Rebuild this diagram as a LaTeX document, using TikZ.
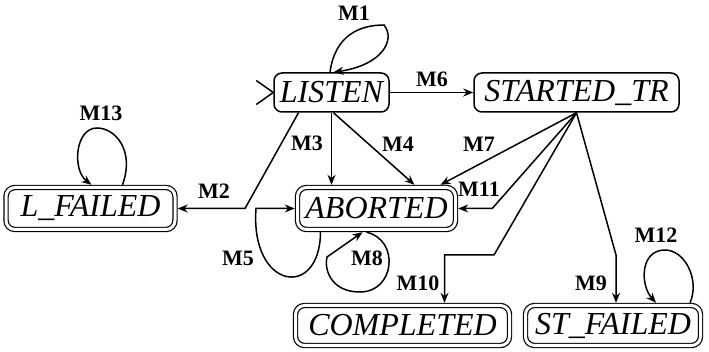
\documentclass[tikz,border=0pt]{standalone}
\usepackage{fontspec}
\setmainfont{Liberation Serif}
\usetikzlibrary{arrows.meta}

\begin{document}
\begin{tikzpicture}[x=1pt,y=-1pt,line width=1.5pt,>={Stealth[length=10pt,width=8pt]},
    state/.style={draw,rounded corners=8pt,inner sep=0,font=\fontsize{32}{36}\selectfont\itshape},
    final/.style={state,double,double distance=3pt,line width=1.2pt,outer sep=2.7pt,rounded corners=9pt},
    msg/.style={font=\fontsize{22}{24}\selectfont\bfseries,inner sep=0}]
        \useasboundingbox (0,0) rectangle (709,352);
        \node[state,minimum width=115pt,minimum height=39pt] (LISTEN) at (331.5,92.5) {LISTEN};
        \node[state,minimum width=205pt,minimum height=39pt] (STARTED) at (576.5,92.5) {STARTED\_TR};
        \node[final,minimum width=169pt,minimum height=42pt] (LFAILED) at (90.5,208.5) {L\_FAILED};
        \node[final,minimum width=158pt,minimum height=42pt] (ABORTED) at (376.5,208.5) {ABORTED};
        \node[final,minimum width=214pt,minimum height=40pt] (COMPLETED) at (402.5,325.5) {COMPLETED};
        \node[final,minimum width=175pt,minimum height=40pt] (STFAILED) at (613,325.5) {ST\_FAILED};
        \node[msg] (m1) at (354,13) {M1};
        \node[msg] (m2) at (214,191) {M2};
        \node[msg] (m3) at (307,143) {M3};
        \node[msg] (m4) at (398,144) {M4};
        \node[msg] (m5) at (238,258) {M5};
        \node[msg] (m6) at (432,79) {M6};
        \node[msg] (m7) at (479,144) {M7};
        \node[msg] (m8) at (367,258) {M8};
        \node[msg] (m9) at (591,283) {M9};
        \node[msg] (m10) at (418,283) {M10};
        \node[msg] (m11) at (479,189) {M11};
        \node[msg] (m12) at (656,235) {M12};
        \node[msg] (m13) at (101,113) {M13};
        \draw (LISTEN.west) -- ++(-17,-12) (LISTEN.west) -- ++(-17,12);
        \draw[->] ([xshift=-1.5pt]LISTEN.north) .. controls (335,35) and (360,25) .. (384,25) .. controls (396,40) and (382,65) .. ([xshift=2pt]LISTEN.north);
        \draw[->] ([xshift=-33pt]LISTEN.south) -- (245,208.5) -- (LFAILED.east);
        \draw[->] (LISTEN.south) -- (LISTEN.south |- ABORTED.north);
        \draw[->] ([xshift=2pt]LISTEN.south) -- ([xshift=38pt]ABORTED.north);
        \draw[->] ([xshift=-56pt]ABORTED.south) .. controls (320,300) and (250,290) .. (256,208.5) -- (ABORTED.west);
        \draw[->] (LISTEN.east) -- (STARTED.west);
        \draw[->] (STARTED.south) -- ([xshift=64pt]ABORTED.north);
        \draw[->] ([xshift=-10pt]ABORTED.south) .. controls (400,240) and (395,292) .. (360,292) .. controls (330,292) and (324,268) .. (327,257) -- ([xshift=-14pt]ABORTED.south);
        \draw[->] (STARTED.south) -- (616,255) -- ([xshift=3pt]STFAILED.north);
        \draw[->] (STARTED.south) -- (494,255) -| ([xshift=42pt]COMPLETED.north);
        \draw[->] (STARTED.south) -- ([xshift=34pt]ABORTED.east) -- (ABORTED.east);
        \draw[->] ([xshift=77pt]STFAILED.north) .. controls (700,280) and (685,250) .. (665,250) .. controls (640,250) and (640,285) .. ([xshift=43pt]STFAILED.north);
        \draw[->] ([xshift=32pt]LFAILED.north) .. controls (135,150) and (115,128) .. (97,128) .. controls (75,128) and (72,170) .. ([xshift=1pt]LFAILED.north);
      \end{tikzpicture}
\end{document}
